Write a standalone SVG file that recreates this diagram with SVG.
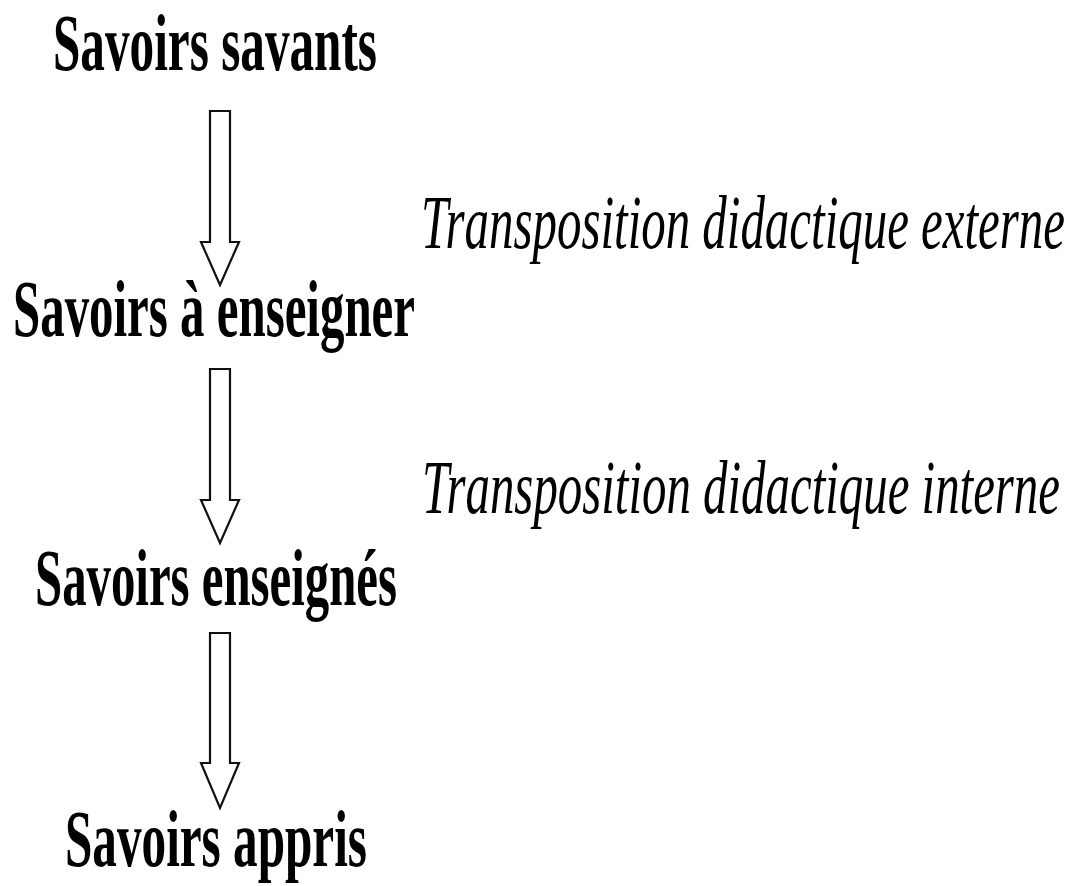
<svg xmlns="http://www.w3.org/2000/svg" width="1078" height="886" viewBox="0 0 1078 886">
  <style>
    .stage { font-family: "Liberation Serif", "Times New Roman", serif; font-weight: bold; font-size: 80px; fill: #000; }
    .step { font-family: "Liberation Serif", "Times New Roman", serif; font-style: italic; font-size: 49px; fill: #000; }
    .arrow { fill: #fff; stroke: #111; stroke-width: 2.2; stroke-linejoin: miter; }
  </style>
  <rect width="1078" height="886" fill="#fff"/>

  <g id="savoirs-savants">
    <text class="stage" x="53" y="70" textLength="324" lengthAdjust="spacingAndGlyphs">Savoirs savants</text>
  </g>
  <g id="savoirs-a-enseigner">
    <text class="stage" x="13" y="336" textLength="402" lengthAdjust="spacingAndGlyphs">Savoirs à enseigner</text>
  </g>
  <g id="savoirs-enseignes">
    <text class="stage" x="35" y="605" textLength="362" lengthAdjust="spacingAndGlyphs">Savoirs enseignés</text>
  </g>
  <g id="savoirs-appris">
    <text class="stage" x="65" y="866" textLength="302" lengthAdjust="spacingAndGlyphs">Savoirs appris</text>
  </g>

  <g id="connectors">
    <!-- hollow block arrows between stages -->
    <polygon class="arrow" points="210,111 230,111 230,242 239,242 220,285 201,242 210,242"/>
    <polygon class="arrow" points="210,369 230,369 230,500 239,500 220,543 201,500 210,500"/>
    <polygon class="arrow" points="210,633 230,633 230,763 239,763 220,808 201,763 210,763"/>
    <!-- tall, narrow italic labels: stretched vertically -->
    <text class="step" transform="translate(421,248) scale(1,1.55)" x="0" y="0" textLength="644" lengthAdjust="spacingAndGlyphs">Transposition didactique externe</text>
    <text class="step" transform="translate(422,513) scale(1,1.55)" x="0" y="0" textLength="638" lengthAdjust="spacingAndGlyphs">Transposition didactique interne</text>
  </g>
</svg>
